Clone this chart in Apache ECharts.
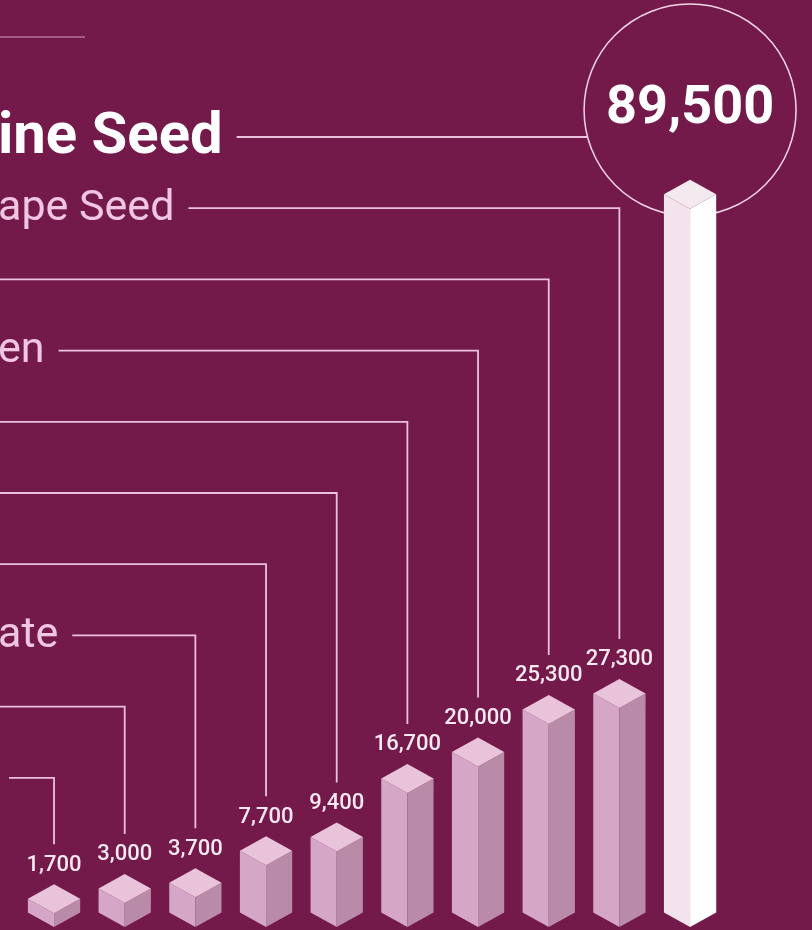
<!DOCTYPE html>
<html>
<head>
<meta charset="utf-8">
<script src="https://cdn.jsdelivr.net/npm/echarts@6/dist/echarts.min.js"></script>
<style>
  html, body { margin: 0; padding: 0; background: #731a4a; }
  #chart { width: 812px; height: 930px; }
</style>
</head>
<body>
<div id="chart"></div>
<script>
// Visible (cropped) category labels, one per bar, left to right
const categories = ["", "", "ate", "", "", "", "en", "", "ape Seed", "ine Seed"];
// Values shown above each bar
const values = [1700, 3000, 3700, 7700, 9400, 16700, 20000, 25300, 27300, 89500];

const BG = '#731a4a';
const LINE = '#ebc2dd';

const measureCtx = document.createElement('canvas').getContext('2d');
function textWidth(t, font) { measureCtx.font = font; return measureCtx.measureText(t).width; }

const chart = echarts.init(document.getElementById('chart'), null, { renderer: 'canvas' });

function renderItem(params, api) {
  const i = params.dataIndex;
  const n = values.length;
  const v = api.value(1);
  const top = api.coord([i, v]);
  const base = api.coord([i, 0]);
  const cx = top[0];
  const T = top[1];
  const B = base[1];
  const w = api.size([1, 0])[0] * 0.37;
  const d = 14.5;
  const isMax = i === n - 1;
  const children = [];

  const leaderY = 137 + (n - 1 - i) * 71.2;
  const label = categories[i];
  let lineStart = i === 0 ? 9 : 0;
  if (label) {
    const font = isMax ? 'bold 58px Roboto' : 'normal 43px Roboto';
    children.push({
      type: 'text',
      style: {
        x: -2, y: leaderY + (isMax ? 1 : 1),
        text: label,
        font: font,
        fill: isMax ? '#ffffff' : '#f0c6e2',
        textAlign: 'left', textVerticalAlign: 'middle'
      }
    });
    lineStart = textWidth(label, font) + 12;
  }

  const topVertex = T - 2 * d;
  if (isMax) {
    const r = 106;
    const ccy = leaderY - 27;
    children.push({
      type: 'circle',
      shape: { cx: cx, cy: ccy, r: r },
      style: { fill: 'none', stroke: '#f3d6e8', lineWidth: 1.5 }
    });
    const xEdge = cx - Math.sqrt(r * r - 27 * 27);
    children.push({
      type: 'line',
      shape: { x1: lineStart, y1: leaderY, x2: xEdge, y2: leaderY },
      style: { stroke: LINE, lineWidth: 1.8 }
    });
    children.push({
      type: 'text',
      style: {
        x: cx, y: ccy - 1,
        text: v.toLocaleString('en-US'),
        font: 'bold 54px Roboto',
        fill: '#ffffff',
        textAlign: 'center', textVerticalAlign: 'middle'
      }
    });
  } else {
    children.push({
      type: 'polyline',
      shape: { points: [[lineStart, leaderY], [cx, leaderY], [cx, topVertex - 40]] },
      style: { fill: 'none', stroke: LINE, lineWidth: 1.8 }
    });
    children.push({
      type: 'text',
      style: {
        x: cx, y: topVertex - 19,
        text: v.toLocaleString('en-US'),
        font: '500 22px Roboto',
        fill: '#f7e8f1',
        textAlign: 'center', textVerticalAlign: 'middle'
      }
    });
  }

  const cTop = isMax ? '#f5e9f0' : '#e8c3da';
  const cLeft = isMax ? '#f2e3ec' : '#d5a6c5';
  const cRight = isMax ? '#ffffff' : '#ba8aa9';

  children.push({
    type: 'polygon',
    shape: { points: [[cx - w, T - d], [cx, T], [cx, B], [cx - w, B - d]] },
    style: { fill: cLeft }
  });
  children.push({
    type: 'polygon',
    shape: { points: [[cx, T], [cx + w, T - d], [cx + w, B - d], [cx, B]] },
    style: { fill: cRight }
  });
  children.push({
    type: 'polygon',
    shape: { points: [[cx, T - 2 * d], [cx + w, T - d], [cx, T], [cx - w, T - d]] },
    style: { fill: cTop }
  });

  return { type: 'group', children: children };
}

chart.setOption({
  backgroundColor: BG,
  animation: false,
  grid: { left: 18.7, right: 86.6, top: 0, bottom: 3, containLabel: false },
  xAxis: {
    type: 'category',
    data: categories.map((c, i) => c || ('c' + i)),
    show: false
  },
  yAxis: { type: 'value', min: 0, max: 115500, show: false },
  graphic: [{
    type: 'line',
    shape: { x1: 0, y1: 37, x2: 85, y2: 37 },
    style: { stroke: '#d69cc0', lineWidth: 1.2 }
  }],
  series: [{
    type: 'custom',
    renderItem: renderItem,
    clip: false,
    data: values.map((v, i) => [i, v])
  }]
});
</script>
</body>
</html>
